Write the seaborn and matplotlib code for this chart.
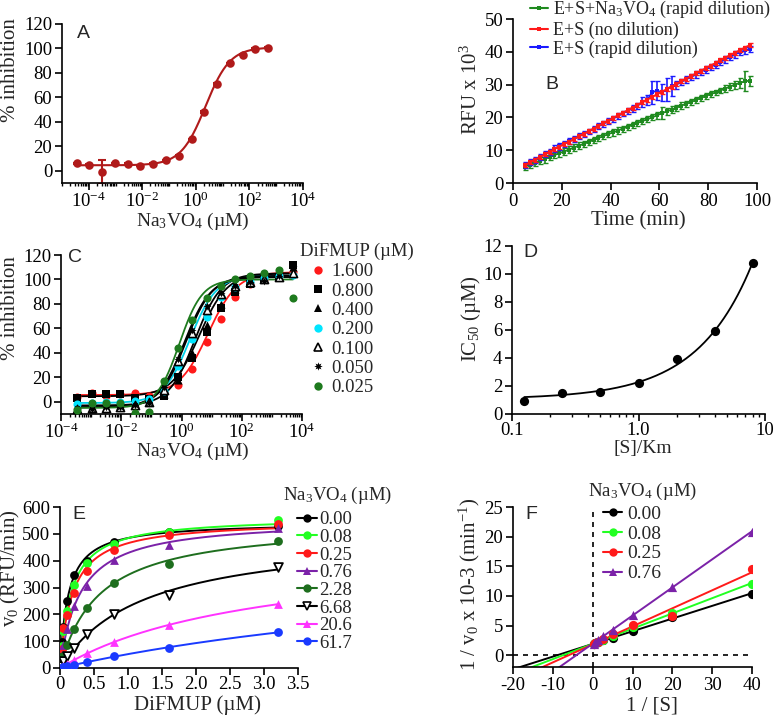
import numpy as np
import matplotlib
matplotlib.use("Agg")
import matplotlib.pyplot as plt
import seaborn as sns
from matplotlib.lines import Line2D
from matplotlib.ticker import FixedLocator, FuncFormatter, NullFormatter, LogLocator, MultipleLocator

# ---------------- DATA ----------------
# Panel A
a_conc = [0.0000349, 0.000105, 0.000314, 0.000941, 0.00282, 0.00847, 0.0254, 0.0762,
          0.229, 0.686, 2.06, 6.17, 18.5, 55.6, 167, 500]
a_inhib = [6, 5, -1, 6, 5.7, 4, 5.7, 8.7, 12.3, 25.6, 48, 71, 88, 95, 99.5, 100.6]
a_err = [0.5, 0.5, 9.5, 0.5, 0.5, 0.5, 0.5, 0.5, 0.5, 0.5, 0.5, 0.5, 0.5, 0.5, 0.5, 0.5]
a_fit = [4.5, 101.0, 0.36, 0.95]  # bottom, top, logIC50, hill

# Panel B
b_time = [5, 7, 9, 11, 13, 15, 17, 19, 21, 23, 25, 27, 29, 31, 33, 35, 37, 39, 41, 43, 45, 47,
          49, 51, 53, 55, 57, 59, 61, 63, 65, 67, 69, 71, 73, 75, 77, 79, 81, 83, 85, 87, 89,
          91, 93, 95, 97]
b_green = [5.0, 5.6, 6.2, 6.8, 7.3, 7.9, 8.5, 9.1, 9.6, 10.2, 10.8, 11.4, 11.9, 12.5, 13.1,
           13.7, 14.3, 14.9, 15.4, 16.0, 16.6, 17.1, 17.7, 18.3, 18.9, 19.4, 20.0, 20.6, 21.3,
           21.8, 22.4, 22.9, 23.6, 24.1, 24.7, 25.3, 25.9, 26.5, 27.1, 27.6, 28.2, 28.8, 29.4,
           30.0, 30.5, 31.0, 31.2]
b_green_err = [1.0, 0.9, 1.0, 1.0, 1.1, 1.0, 1.0, 1.1, 1.0, 1.0, 1.1, 1.0, 1.0, 1.0, 1.0,
               1.0, 1.0, 1.0, 1.0, 1.0, 0.9, 1.0, 0.9, 0.9, 0.9, 0.9, 0.9, 1.0, 1.8, 1.0, 1.0,
               0.9, 1.0, 0.9, 0.9, 0.9, 0.9, 0.9, 0.9, 0.9, 0.9, 1.0, 1.0, 1.2, 1.5, 3.0, 1.5]
b_red = [5.5, 6.3, 7.1, 7.9, 8.7, 9.5, 10.3, 11.1, 11.9, 12.6, 13.4, 14.2, 15.0, 15.8, 16.6,
         17.4, 18.2, 19.0, 19.8, 20.6, 21.4, 22.2, 23.0, 23.8, 24.6, 25.4, 26.2, 27.0, 27.8,
         28.6, 29.4, 30.2, 31.0, 31.8, 32.6, 33.4, 34.2, 35.0, 35.8, 36.6, 37.4, 38.2, 39.0,
         39.7, 40.5, 41.3, 42.0]
b_red_err = [0.6] * 47
b_blue = [5.4, 6.3, 7.0, 7.8, 8.8, 9.4, 10.5, 11.2, 11.9, 12.7, 13.3, 14.2, 14.9, 15.7, 16.4,
          17.3, 18.0, 18.8, 19.6, 20.4, 21.2, 22.0, 22.7, 23.5, 24.6, 25.3, 27.6, 28.2, 27.6,
          28.4, 29.6, 30.0, 30.8, 31.6, 32.3, 33.1, 33.9, 34.6, 35.4, 36.1, 36.9, 37.7, 38.4,
          39.2, 39.9, 40.4, 40.9]
b_blue_err = [0.9, 0.9, 0.9, 0.9, 0.9, 0.9, 1.0, 1.0, 0.9, 0.9, 0.9, 0.9, 0.9, 0.9, 0.9,
              0.9, 0.9, 0.9, 0.9, 0.9, 0.9, 0.9, 1.0, 1.0, 1.5, 1.5, 3.5, 3.0, 2.5, 3.5, 3.0,
              1.2, 1.0, 1.0, 1.0, 1.0, 1.0, 1.0, 1.0, 1.0, 1.0, 1.0, 1.0, 1.0, 1.0, 1.0, 1.0]
b_labels = ["E+S+Na$_3$VO$_4$ (rapid dilution)", "E+S (no dilution)", "E+S (rapid dilution)"]

# Panel C
c_conc = [0.000349, 0.00105, 0.00314, 0.00941, 0.0282, 0.0847, 0.254, 0.762, 2.29, 6.86,
          20.6, 61.7, 185, 556, 1667, 5000]
c_labels = ["1.600", "0.800", "0.400", "0.200", "0.100", "0.050", "0.025"]
c_y_1600 = [4, 7, 5, 6, 7, 5, 7, 14, 27, 49, 68, 86, 96, 100, 103, 106]
c_y_0800 = [3, 6, 6.5, 6.5, 3, 2, 5, 20, 36, 57, 77, 90, 96, 100, 102, 112]
c_y_0400 = [-3, -6, -4, -3, -1, 0, 6, 18, 40, 63, 80, 92, 97, 100, 102, 110]
c_y_0200 = [-2, -1, 0, 0, 1, 2, 9, 29, 51, 69, 86, 94, 98, 101, 103, 104]
c_y_0100 = [-6, -5, -5, -4, -3, 0, 10, 33, 56, 75, 88, 95, 98, 100, 102, 105]
c_y_0050 = [-5, -6, -4, -4, -3, -1, 12, 35, 59, 78, 89, 95, 98, 99, 103, 111]
c_y_0025 = [-7, -1, -1, -1, -9, -8, 17, 44, 67, 85, 95, 100, 103, 105, 108, 85]
c_bottom = [5.5, 4.5, -3, -1, -4.5, -4.5, -5]
c_top = [106, 105, 105, 103, 103, 102, 100]
c_logic50 = [0.88, 0.6, 0.45, 0.28, 0.15, 0.1, -0.07]
c_hill = [0.9, 0.95, 1.0, 1.0, 1.0, 1.0, 1.15]

# Panel D
d_ratio = [0.125, 0.25, 0.5, 1, 2, 4, 8]
d_ic50 = [0.9, 1.5, 1.6, 2.2, 3.9, 5.95, 10.75]

# Panel E / F
e_conc = [0.025, 0.05, 0.1, 0.2, 0.4, 0.8, 1.6, 3.2]
e_labels = ["0.00", "0.08", "0.25", "0.76", "2.28", "6.68", "20.6", "61.7"]
e_v_000 = [97, 154, 250, 345, 400, 468, 508, 530]
e_v_008 = [83, 139, 213, 310, 390, 462, 505, 550]
e_v_025 = [69, 150, 196, 280, 360, 440, 495, 535]
e_v_076 = [48, 87, 147, 232, 305, 402, 460, 522]
e_v_228 = [20, 45, 85, 145, 225, 317, 388, 473]
e_v_668 = [8, 25, 45, 75, 127, 203, 272, 375]
e_v_206 = [4, 8, 15, 30, 55, 97, 160, 238]
e_v_617 = [1, 3, 6, 12, 22, 45, 75, 133]

# ---------------- STYLE ----------------
sns.set_theme(style="ticks")
plt.rcParams.update({
    'font.family': ['Liberation Serif', 'DejaVu Serif'],
    'mathtext.fontset': 'custom',
    'mathtext.rm': 'Liberation Serif',
    'mathtext.it': 'Liberation Serif:italic',
    'mathtext.bf': 'Liberation Serif:bold',
    'axes.unicode_minus': False,
    'axes.linewidth': 1.2,
    'axes.edgecolor': 'black',
    'xtick.color': 'black', 'ytick.color': 'black',
    'xtick.major.size': 5, 'ytick.major.size': 5,
    'xtick.minor.size': 2.5, 'ytick.minor.size': 2.5,
    'xtick.major.width': 1.2, 'ytick.major.width': 1.2,
    'xtick.minor.width': 1.0, 'ytick.minor.width': 1.0,
    'xtick.labelsize': 13.5, 'ytick.labelsize': 13.5,
    'xtick.major.pad': 2, 'ytick.major.pad': 2,
    'axes.labelsize': 15,
})

W, H = 777, 717
fig = plt.figure(figsize=(W / 100, H / 100), dpi=100)
fig.patch.set_facecolor('white')


def axes_px(l, t, r, b):
    ax = fig.add_axes([l / W, 1 - b / H, (r - l) / W, (b - t) / H])
    ax.set_facecolor('white')
    sns.despine(ax=ax)
    ax._box = (l, t, r, b)
    return ax


def place_labels(ax, xlabel, ylabel, xl_cx, xl_top, yl_right, yl_cy, xsize=15, ysize=15):
    l, t, r, b = ax._box
    ax.set_xlabel(xlabel, fontsize=xsize)
    ax.set_ylabel(ylabel, fontsize=ysize)
    ax.xaxis.set_label_coords((xl_cx - l) / (r - l), (b - xl_top) / (b - t))
    ax.yaxis.set_label_coords((yl_right - l) / (r - l), (b - yl_cy) / (b - t))


def letter(px, py, s):
    fig.text(px / W, 1 - py / H, s, fontsize=14, family='Liberation Sans', ha='left', va='top')


def four_pl(x, bottom, top, logic50, hill):
    return bottom + (top - bottom) / (1 + 10 ** ((logic50 - np.log10(x)) * hill))


def log_axis(ax, lo, hi, majors, fmt):
    ax.set_xscale('log')
    ax.set_xlim(lo, hi)
    ax.xaxis.set_major_locator(FixedLocator(majors))
    ax.xaxis.set_major_formatter(FuncFormatter(fmt))
    ax.xaxis.set_minor_locator(LogLocator(base=10, subs=np.arange(1, 10) * 1.0, numticks=200))
    ax.xaxis.set_minor_formatter(NullFormatter())


pow_fmt = lambda v, p: r"10$^{%d}$" % int(round(np.log10(v)))

# ---------------- PANEL A ----------------
axA = axes_px(62, 24, 303, 183)
colA = '#b01a1a'
xs = np.logspace(np.log10(a_conc[0]), np.log10(a_conc[-1]), 300)
sns.lineplot(x=xs, y=four_pl(xs, *a_fit), ax=axA, color=colA, lw=1.5, estimator=None, sort=False)
axA.errorbar(a_conc, a_inhib, yerr=a_err, fmt='none', ecolor=colA, elinewidth=1.5, capsize=3, capthick=1.5)
sns.scatterplot(x=a_conc, y=a_inhib, ax=axA, color=colA, s=38, edgecolor=colA, linewidth=0, legend=False, zorder=3)
log_axis(axA, 1e-5, 1e4, [1e-4, 1e-2, 1, 1e2, 1e4], pow_fmt)
axA.tick_params(axis='x', which='major', pad=1)
axA.set_ylim(-10, 120)
axA.yaxis.set_major_locator(FixedLocator([0, 20, 40, 60, 80, 100, 120]))
place_labels(axA, "Na$_3$VO$_4$ (µM)", "% inhibition", 193, 211, 20, 70, xsize=14)
letter(77, 25, "A")

# ---------------- PANEL B ----------------
axB = axes_px(513, 19, 757, 183)
colsB = ['#1f8a1f', '#ff1a1a', '#1a1aff']
b_order = [0, 2, 1]
b_vals = [b_green, b_red, b_blue]
b_errs = [b_green_err, b_red_err, b_blue_err]
for k in b_order:
    axB.errorbar(b_time, b_vals[k], yerr=b_errs[k], fmt='none', ecolor=colsB[k], elinewidth=1.2,
                 capsize=1.8, capthick=1.0)
    sns.lineplot(x=b_time, y=b_vals[k], ax=axB, color=colsB[k], lw=1.3, marker='s', markersize=3,
                 markeredgewidth=0, estimator=None, sort=False, legend=False)
axB.set_xlim(0, 100)
axB.set_ylim(0, 50)
axB.xaxis.set_major_locator(MultipleLocator(20))
axB.yaxis.set_major_locator(MultipleLocator(10))
place_labels(axB, "Time (min)", "RFU x 10$^3$", 638, 211, 482, 89)
hB = [Line2D([], [], color=c, lw=1.5, marker='s', ms=3, mew=0) for c in colsB]
fig.legend(hB, b_labels, loc='upper left', bbox_to_anchor=(530 / W, 1 + 1 / H),
           frameon=False, fontsize=13, handlelength=1.0, handletextpad=0.25,
           labelspacing=0.08, borderpad=0, borderaxespad=0)
letter(545, 76, "B")

# ---------------- PANEL C ----------------
axC = axes_px(61, 255, 302, 414)
c_series = [c_y_1600, c_y_0800, c_y_0400, c_y_0200, c_y_0100, c_y_0050, c_y_0025]
c_pt_col = ['#ff1a1a', 'black', 'black', '#00e5ff', 'black', 'black', '#1e7a1e']
c_line_col = ['#ff1a1a', 'black', 'black', '#00d0e8', 'black', 'black', '#1e7a1e']
c_mark = ['o', 's', '^', 'o', '^', (8, 1, 0), 'o']
c_face = ['#ff1a1a', 'black', 'black', '#00e5ff', 'white', 'black', '#1e7a1e']
xs = np.logspace(np.log10(c_conc[0]), np.log10(c_conc[-1]), 300)
for i in range(7):
    sns.lineplot(x=xs, y=four_pl(xs, c_bottom[i], c_top[i], c_logic50[i], c_hill[i]), ax=axC,
                 color=c_line_col[i], lw=1.3, estimator=None, sort=False)
for i in range(7):
    sns.scatterplot(x=c_conc, y=c_series[i], ax=axC, marker=c_mark[i], color=c_face[i],
                    edgecolor=c_pt_col[i], linewidth=1.2 if c_face[i] == 'white' else 0,
                    s=34, legend=False, zorder=3)
log_axis(axC, 1e-4, 1e4, [1e-4, 1e-2, 1, 1e2, 1e4], pow_fmt)
axC.tick_params(axis='x', which='major', pad=1)
axC.set_ylim(-10, 120)
axC.yaxis.set_major_locator(FixedLocator([0, 20, 40, 60, 80, 100, 120]))
place_labels(axC, "Na$_3$VO$_4$ (µM)", "% inhibition", 193, 441, 20, 308, xsize=14)
hC = [Line2D([], [], ls='none', marker=c_mark[i], color=c_pt_col[i], mfc=c_face[i],
             mec=c_pt_col[i], mew=1.2 if c_face[i] == 'white' else 0, ms=6) for i in range(7)]
fig.legend(hC, c_labels, loc='upper left', bbox_to_anchor=(309 / W, 1 - 263 / H),
           frameon=False, fontsize=13.5, handlelength=1.0, handletextpad=0.2,
           labelspacing=0.12, borderpad=0, borderaxespad=0)
fig.text(300 / W, 1 - 251 / H, "DiFMUP (µM)", fontsize=13.5, ha='left', va='center')
letter(68, 249, "C")

# ---------------- PANEL D ----------------
axD = axes_px(512, 246, 765, 414)
slope, intercept = np.polyfit(d_ratio, d_ic50, 1)
xs = np.logspace(np.log10(d_ratio[0]), np.log10(d_ratio[-1]), 200)
sns.lineplot(x=xs, y=intercept + slope * xs, ax=axD, color='black', lw=1.3, estimator=None, sort=False)
sns.scatterplot(x=d_ratio, y=d_ic50, ax=axD, color='black', s=44, linewidth=0, legend=False, zorder=3)
log_axis(axD, 0.1, 10, [0.1, 1, 10], lambda v, p: {0.1: "0.1", 1: "1.0", 10: "10"}.get(round(v, 1), ""))
axD.tick_params(axis='x', which='major', pad=1)
axD.set_ylim(0, 12)
axD.yaxis.set_major_locator(MultipleLocator(2))
place_labels(axD, "[S]/Km", "IC$_{50}$ (µM)", 643, 440, 483, 319, xsize=14)
letter(523, 244, "D")

# ---------------- PANEL E ----------------
axE = axes_px(60, 507, 298, 668)
e_series = [e_v_000, e_v_008, e_v_025, e_v_076, e_v_228, e_v_668, e_v_206, e_v_617]
e_col = ['black', '#22ff22', '#ff1a1a', '#7b22a8', '#1e6e1e', 'black', '#ff33ff', '#1a3aff']
e_mark = ['o', 'o', 'o', '^', 'o', 'v', '^', 'o']
e_face = ['black', '#22ff22', '#ff1a1a', '#7b22a8', '#1e6e1e', 'white', '#ff33ff', '#1a3aff']


def mm_fit(x, y):
    x = np.asarray(x, float)
    y = np.asarray(y, float)
    best = None
    for km in np.logspace(-3, 3, 3000):
        f = x / (km + x)
        vmax = (f @ y) / (f @ f)
        sse = ((y - vmax * f) ** 2).sum()
        if best is None or sse < best[0]:
            best = (sse, vmax, km)
    return best[1], best[2]


xs = np.linspace(0, e_conc[-1], 300)
for i in range(8):
    vmax, km = mm_fit(e_conc, e_series[i])
    sns.lineplot(x=xs, y=vmax * xs / (km + xs), ax=axE, color=e_col[i], lw=1.4, estimator=None, sort=False)
for i in range(8):
    sns.scatterplot(x=e_conc, y=e_series[i], ax=axE, marker=e_mark[i], color=e_face[i],
                    edgecolor=e_col[i], linewidth=1.3 if e_face[i] == 'white' else 0,
                    s=40, legend=False, zorder=3)
axE.set_xlim(0, 3.5)
axE.set_ylim(0, 600)
axE.xaxis.set_major_locator(MultipleLocator(0.5))
axE.xaxis.set_major_formatter(FuncFormatter(lambda v, p: "0" if abs(v) < 1e-9 else "%.1f" % v))
axE.yaxis.set_major_locator(MultipleLocator(100))
axE.tick_params(axis='x', which='major', pad=1)
place_labels(axE, "DiFMUP (µM)", "v$_0$ (RFU/min)", 198, 695, 22, 568)
hE = [Line2D([], [], color=e_col[i], lw=1.5, marker=e_mark[i], mfc=e_face[i], mec=e_col[i],
             mew=1.2 if e_face[i] == 'white' else 0, ms=6) for i in range(8)]
fig.legend(hE, e_labels, loc='upper left', bbox_to_anchor=(297 / W, 1 - 511 / H),
           frameon=False, fontsize=13.5, handlelength=1.07, handletextpad=0.1,
           labelspacing=0.03, borderpad=0, borderaxespad=0)
fig.text(283 / W, 1 - 495 / H, "Na$_3$VO$_4$ (µM)", fontsize=13.5, ha='left', va='center')
letter(72, 506, "E")

# ---------------- PANEL F ----------------
axF = axes_px(513, 507, 752, 667)
inv_s = 1.0 / np.array(e_conc)
axF.axhline(0, color='black', lw=1.2, ls=(0, (3, 3)), xmax=1.0)
axF.axvline(0, color='black', lw=1.2, ls=(0, (3, 3)))
xs = np.linspace(-20, 40, 200)
for i in range(4):
    inv_v = 1000.0 / np.array(e_series[i], float)
    m, q = np.polyfit(inv_s, inv_v, 1)
    sns.lineplot(x=xs, y=m * xs + q, ax=axF, color=e_col[i], lw=1.4, estimator=None, sort=False)
for i in range(4):
    inv_v = 1000.0 / np.array(e_series[i], float)
    sns.scatterplot(x=inv_s, y=inv_v, ax=axF, marker=e_mark[i], color=e_face[i], linewidth=0,
                    s=44, legend=False, zorder=3)
axF.set_xlim(-20, 40)
axF.set_ylim(-2, 25)
axF.xaxis.set_major_locator(MultipleLocator(10))
axF.yaxis.set_major_locator(FixedLocator([0, 5, 10, 15, 20, 25]))
place_labels(axF, "1 / [S]", "1 / v$_0$ x 10-3 (min$^{-1}$)", 652, 697, 482, 584)
hF = [Line2D([], [], color=e_col[i], lw=1.5, marker=e_mark[i], mfc=e_face[i], mec=e_col[i],
             mew=0, ms=6) for i in range(4)]
fig.legend(hF, e_labels[:4], loc='upper left', bbox_to_anchor=(603 / W, 1 - 505 / H),
           frameon=False, fontsize=14, handlelength=1.0, handletextpad=0.25,
           labelspacing=0.12, borderpad=0, borderaxespad=0)
fig.text(588 / W, 1 - 491 / H, "Na$_3$VO$_4$ (µM)", fontsize=13.5, ha='left', va='center')
letter(525, 506, "F")

fig.savefig("out.png", dpi=100, facecolor='white')
